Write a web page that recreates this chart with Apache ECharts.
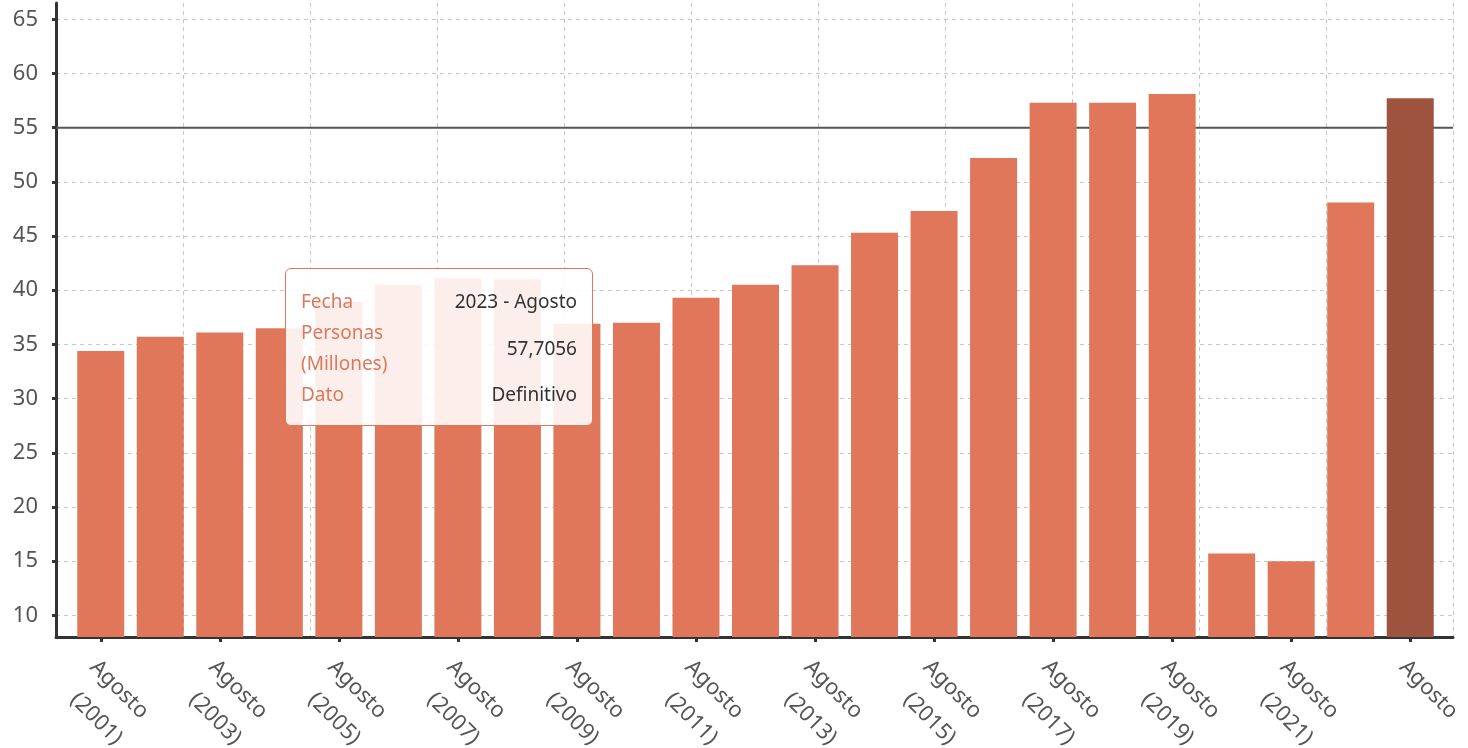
<!DOCTYPE html>
<html>
<head>
<meta charset="utf-8">
<title>Personas (Millones) - Agosto</title>
<script src="https://cdn.jsdelivr.net/npm/echarts@6/dist/echarts.min.js"></script>
<style>
  html, body { margin: 0; padding: 0; background: #fff; }
  #chart { width: 1468px; height: 748px; }
</style>
</head>
<body>
<div id="chart"></div>
<script>
// categorías del eje x (la última viene sin año en el original)
var categories = [
    'Agosto (2001)', 'Agosto (2002)', 'Agosto (2003)', 'Agosto (2004)', 'Agosto (2005)',
    'Agosto (2006)', 'Agosto (2007)', 'Agosto (2008)', 'Agosto (2009)', 'Agosto (2010)',
    'Agosto (2011)', 'Agosto (2012)', 'Agosto (2013)', 'Agosto (2014)', 'Agosto (2015)',
    'Agosto (2016)', 'Agosto (2017)', 'Agosto (2018)', 'Agosto (2019)', 'Agosto (2020)',
    'Agosto (2021)', 'Agosto (2022)', 'Agosto'
]
// personas (millones)
var personas = [
    34.4, 35.7, 36.1, 36.5, 38.9,
    40.5, 41.1, 41.0, 36.9, 37.0,
    39.3, 40.5, 42.3, 45.3, 47.3,
    52.2, 57.3, 57.3, 58.1, 15.7,
    15.0, 48.1, 57.7056
]
var yTicks = [10, 15, 20, 25, 30, 35, 40, 45, 50, 55, 60, 65]
var refValue = 55
var highlightIndex = 22
var tipFecha = '2023 - Agosto'
var tipDato = 'Definitivo'

var barColor = '#e0775a'
var barDark = '#9d533d'
var font = '"Noto Sans", sans-serif'

var barData = personas.map(function (v, i) {
    if (i === highlightIndex) {
        return { value: v, itemStyle: { color: barDark } }
    }
    return v
})

var chart = echarts.init(document.getElementById('chart'))
chart.setOption({
    animation: false,
    textStyle: { fontFamily: font },
    grid: [
        { left: 56, right: 15, top: 3, bottom: 111, outerBoundsMode: 'none', containLabel: false },   // ejes y rejilla
        { left: 71, right: 28, top: 3, bottom: 111, outerBoundsMode: 'none', containLabel: false }    // barras
    ],
    tooltip: {
        trigger: 'item',
        triggerOn: 'none',
        alwaysShowContent: true,
        transitionDuration: 0,
        position: [285, 268],
        backgroundColor: 'rgba(255,255,255,0.88)',
        borderColor: barColor,
        borderWidth: 1,
        padding: [17, 15, 15, 15],
        extraCssText: 'border-radius:6px;box-shadow:none;width:276px;',
        formatter: function (p) {
            var lab = 'color:' + barColor + ';'
            var val = 'color:#333;text-align:right;'
            var td = 'padding:0;vertical-align:middle;'
            return '<table style="width:100%;border-collapse:collapse;font-family:' + font.replace(/"/g, "'") + ';font-size:19px;line-height:31px;">' +
                '<tr><td style="' + td + lab + '">Fecha</td><td style="' + td + val + '">' + tipFecha + '</td></tr>' +
                '<tr><td style="' + td + lab + '">Personas<br>(Millones)</td><td style="' + td + val + '">' +
                String(p.value).replace('.', ',') + '</td></tr>' +
                '<tr><td style="' + td + lab + '">Dato</td><td style="' + td + val + '">' + tipDato + '</td></tr>' +
                '</table>'
        }
    },
    xAxis: [
        {
            gridIndex: 0,
            type: 'value',
            min: 0,
            max: 11,
            interval: 1,
            axisLine: { show: true, onZero: false, lineStyle: { color: '#333', width: 3 } },
            axisTick: { show: false },
            axisLabel: { show: false },
            splitLine: { show: true, lineStyle: { color: '#c8c8c8', type: [4, 4], width: 1 } }
        },
        {
            gridIndex: 1,
            type: 'category',
            data: categories,
            axisLine: { show: false },
            axisTick: {
                show: true, alignWithLabel: true, interval: 1, length: 5, inside: false,
                lineStyle: { color: '#333', width: 3 }
            },
            axisLabel: {
                interval: 1,
                rotate: -45,
                margin: 8,
                padding: [0, 0, 0, 8],
                fontSize: 22,
                color: '#555',
                lineHeight: 37,
                align: 'left',
                verticalAlign: 'top',
                formatter: function (v) {
                    return v.split(' ').map(function (s) { return '{t|' + s + '}' }).join('\n')
                },
                rich: {
                    t: { align: 'right', fontSize: 22, color: '#555', lineHeight: 37, fontFamily: font }
                }
            },
            splitLine: { show: false }
        }
    ],
    yAxis: [
        {
            gridIndex: 0,
            type: 'value',
            min: 8,
            max: 66.5,
            axisLine: { show: true, lineStyle: { color: '#333', width: 3 } },
            axisTick: { show: true, length: 4, customValues: yTicks, lineStyle: { color: '#333', width: 3 } },
            axisLabel: { customValues: yTicks, fontSize: 22, color: '#555', margin: 18 },
            splitLine: { show: true, lineStyle: { color: '#c8c8c8', type: [4, 4], width: 1 } }
        },
        {
            gridIndex: 1,
            type: 'value',
            min: 8,
            max: 66.5,
            show: false,
            splitLine: { show: false }
        }
    ],
    series: [
        {
            name: 'ref',
            type: 'line',
            xAxisIndex: 0,
            yAxisIndex: 0,
            z: 1,
            silent: true,
            symbol: 'none',
            data: [[0, refValue], [11, refValue]],
            lineStyle: { color: '#555', width: 2 },
            tooltip: { show: false }
        },
        {
            name: 'Personas (Millones)',
            type: 'bar',
            xAxisIndex: 1,
            yAxisIndex: 1,
            z: 3,
            barWidth: 47,
            itemStyle: { color: barColor },
            data: barData
        }
    ]
})

chart.dispatchAction({ type: 'showTip', seriesIndex: 1, dataIndex: highlightIndex })
</script>
</body>
</html>
